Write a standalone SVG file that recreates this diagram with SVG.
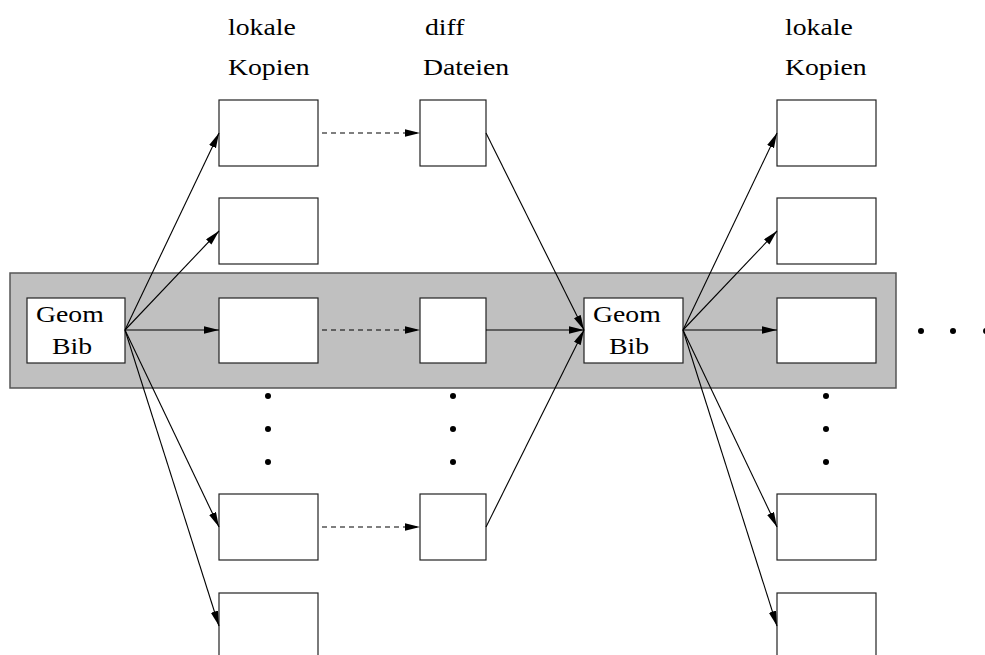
<svg xmlns="http://www.w3.org/2000/svg" width="985" height="655" viewBox="0 0 985 655">
<defs>
<marker id="ah" markerWidth="16" markerHeight="8" refX="15" refY="3.75" orient="auto" markerUnits="userSpaceOnUse">
<path d="M0,0 L15,3.75 L0,7.5 z" fill="#000"/>
</marker>
<style>
.box{fill:#fff;stroke:#222;stroke-width:1.2}
.band{fill:#c0c0c0;stroke:#555;stroke-width:1.5}
.ln{stroke:#000;stroke-width:1.1;fill:none;marker-end:url(#ah)}
.dl{stroke:#000;stroke-width:1.1;fill:none;stroke-dasharray:5 4;marker-end:url(#ah)}
.t{font-family:"Liberation Serif","Times New Roman",Times,serif;font-size:23.5px;fill:#000}
.dot{fill:#000}
</style>
</defs>
<rect width="985" height="655" fill="#fff"/>
<rect class="band" x="10" y="273" width="886" height="115"/>

<g id="labels">
<text class="t" transform="translate(228,35) scale(1.18,1)">lokale</text>
<text class="t" transform="translate(228,75) scale(1.18,1)">Kopien</text>
<text class="t" transform="translate(425,35) scale(1.18,1)">diff</text>
<text class="t" transform="translate(423,75) scale(1.18,1)">Dateien</text>
<text class="t" transform="translate(785,35) scale(1.18,1)">lokale</text>
<text class="t" transform="translate(785,75) scale(1.18,1)">Kopien</text>
</g>

<g id="geom1">
<rect class="box" x="27" y="298" width="98" height="65"/>
<text class="t" transform="translate(36,322) scale(1.18,1)">Geom</text>
<text class="t" transform="translate(52,354) scale(1.18,1)">Bib</text>
</g>
<g id="geom2">
<rect class="box" x="584" y="298" width="99" height="65"/>
<text class="t" transform="translate(593,322) scale(1.18,1)">Geom</text>
<text class="t" transform="translate(609,354) scale(1.18,1)">Bib</text>
</g>

<g id="copyL1"><rect class="box" x="219" y="100" width="99" height="66"/></g>
<g id="copyL2"><rect class="box" x="219" y="198" width="99" height="66"/></g>
<g id="copyL3"><rect class="box" x="219" y="298" width="99" height="65"/></g>
<g id="copyL4"><rect class="box" x="219" y="494" width="99" height="66"/></g>
<g id="copyL5"><rect class="box" x="219" y="593" width="99" height="66"/></g>

<g id="diff1"><rect class="box" x="420" y="100" width="66" height="66"/></g>
<g id="diff2"><rect class="box" x="420" y="298" width="66" height="65"/></g>
<g id="diff3"><rect class="box" x="420" y="494" width="66" height="66"/></g>

<g id="copyR1"><rect class="box" x="777" y="100" width="99" height="66"/></g>
<g id="copyR2"><rect class="box" x="777" y="198" width="99" height="66"/></g>
<g id="copyR3"><rect class="box" x="777" y="298" width="99" height="65"/></g>
<g id="copyR4"><rect class="box" x="777" y="494" width="99" height="66"/></g>
<g id="copyR5"><rect class="box" x="777" y="593" width="99" height="66"/></g>

<g id="dots">
<circle class="dot" cx="268" cy="396" r="3"/>
<circle class="dot" cx="268" cy="429" r="3"/>
<circle class="dot" cx="268" cy="462" r="3"/>
<circle class="dot" cx="453" cy="396" r="3"/>
<circle class="dot" cx="453" cy="429" r="3"/>
<circle class="dot" cx="453" cy="462" r="3"/>
<circle class="dot" cx="826" cy="396" r="3"/>
<circle class="dot" cx="826" cy="429" r="3"/>
<circle class="dot" cx="826" cy="462" r="3"/>
<circle class="dot" cx="921" cy="331" r="3"/>
<circle class="dot" cx="953" cy="331" r="3"/>
<circle class="dot" cx="986" cy="331" r="3"/>
</g>

<g id="connectors">
<line class="ln" x1="125" y1="330" x2="219" y2="133"/>
<line class="ln" x1="125" y1="330" x2="219" y2="231"/>
<line class="ln" x1="125" y1="330" x2="219" y2="330"/>
<line class="ln" x1="125" y1="330" x2="219" y2="527"/>
<line class="ln" x1="125" y1="330" x2="219" y2="626"/>
<line class="dl" x1="322" y1="133" x2="420" y2="133"/>
<line class="dl" x1="322" y1="330" x2="420" y2="330"/>
<line class="dl" x1="322" y1="527" x2="420" y2="527"/>
<line class="ln" x1="486" y1="133" x2="584" y2="330"/>
<line class="ln" x1="486" y1="330" x2="584" y2="330"/>
<line class="ln" x1="486" y1="527" x2="584" y2="330"/>
<line class="ln" x1="683" y1="330" x2="777" y2="133"/>
<line class="ln" x1="683" y1="330" x2="777" y2="231"/>
<line class="ln" x1="683" y1="330" x2="777" y2="330"/>
<line class="ln" x1="683" y1="330" x2="777" y2="527"/>
<line class="ln" x1="683" y1="330" x2="777" y2="626"/>
</g>
</svg>
